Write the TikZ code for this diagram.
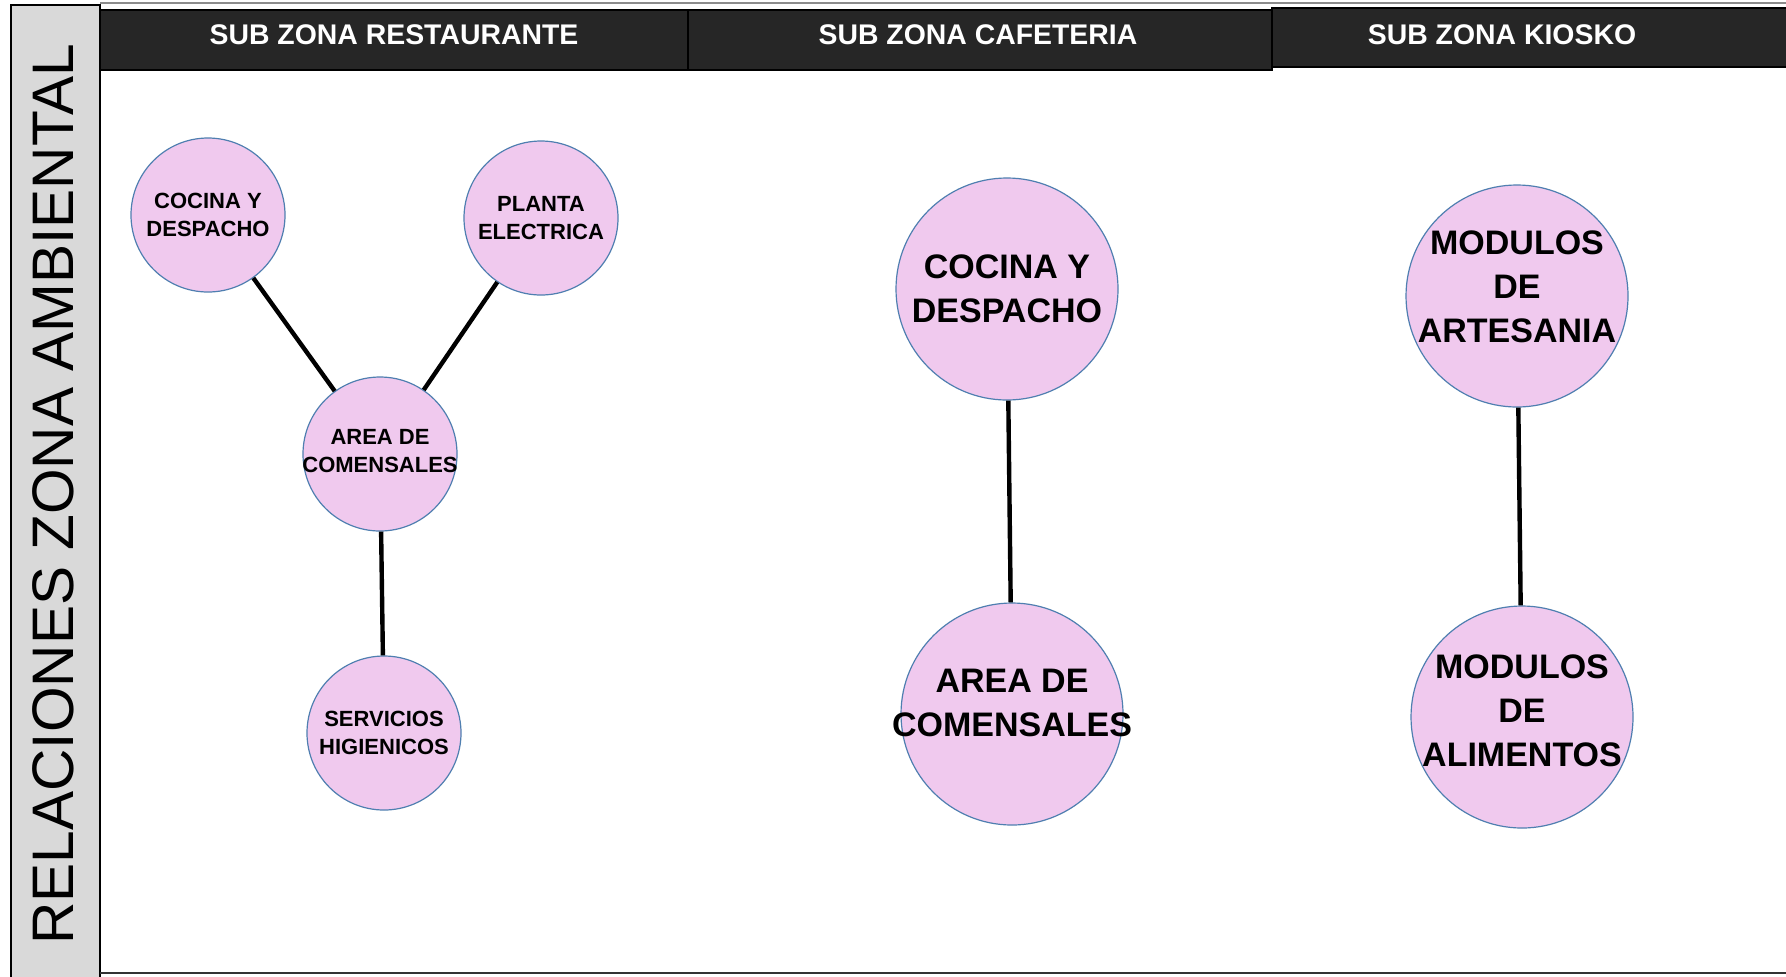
\documentclass[tikz,border=0pt]{standalone}
\usepackage{fontspec}
\setmainfont{Liberation Sans}
\definecolor{zonefill}{RGB}{240,201,238}
\definecolor{zoneline}{RGB}{79,127,176}
\definecolor{headfill}{RGB}{38,38,38}
\definecolor{stripfill}{RGB}{217,217,217}
\begin{document}
\begin{tikzpicture}[x=0.5pt,y=-0.5pt,every node/.style={inner sep=1pt},
  zone/.style={circle,draw=zoneline,line width=0.6pt,fill=zonefill,align=center,inner sep=-3pt,
    font=\bfseries\fontsize{11}{14}\selectfont,minimum size=77pt},
  bigzone/.style={zone,inner sep=-8pt,font=\bfseries\fontsize{17}{22}\selectfont,minimum size=111pt},
  lifted/.style 2 args={text height=#1,text depth=#2},
  headcell/.style={draw=black,line width=0.8pt,fill=headfill},
  head/.style={text=white,font=\bfseries\fontsize{14.2}{17}\selectfont},
  link/.style={line width=2.2pt}]
\useasboundingbox (0,0) rectangle (1786,976);
\fill[white] (0,0) rectangle (1786,976);
% frame
\draw[black!45,line width=0.8pt] (100,3) -- (1786,3);
\draw[fill=stripfill,line width=1pt] (11,5) rectangle (100,982);
\draw[black!80,line width=1.2pt] (100,973) -- (1786,973);
\node[rotate=90,font=\fontsize{29.3}{34}\selectfont] (title) at (53,494) {RELACIONES ZONA AMBIENTAL};
% header
\draw[headcell] (100,10) rectangle (688,70);
\draw[headcell] (688,10) rectangle (1272,70);
\draw[headcell] (1272,8) rectangle (1790,67);
\node[head] (hrest) at (394,35) {SUB ZONA RESTAURANTE};
\node[head] (hcafe) at (978,35) {SUB ZONA CAFETERIA};
\node[head] (hkiosk) at (1502,35) {SUB ZONA KIOSKO};
% restaurante
\node[zone] (rcocina) at (208,215) {COCINA Y\\DESPACHO};
\node[zone] (rplanta) at (541,218) {PLANTA\\ELECTRICA};
\node[zone,lifted={22pt}{3.6pt}] (rarea) at (380,454) {AREA DE\\COMENSALES};
\node[zone] (rserv) at (384,733) {SERVICIOS\\HIGIENICOS};
\draw[link] (rcocina) -- (rarea);
\draw[link] (rplanta) -- (rarea);
\draw[link] (rarea) -- (rserv);
% cafeteria
\node[bigzone] (ccocina) at (1007,289) {COCINA Y\\DESPACHO};
\node[bigzone,lifted={34pt}{12pt}] (carea) at (1012,714) {AREA DE\\COMENSALES};
\draw[link] (ccocina) -- (carea);
% kiosko
\node[bigzone,lifted={57pt}{11pt}] (kartes) at (1517,296) {MODULOS\\DE\\ARTESANIA};
\node[bigzone,lifted={57pt}{8pt}] (kalim) at (1522,717) {MODULOS\\DE\\ALIMENTOS};
\draw[link] (kartes) -- (kalim);
\end{tikzpicture}
\end{document}
